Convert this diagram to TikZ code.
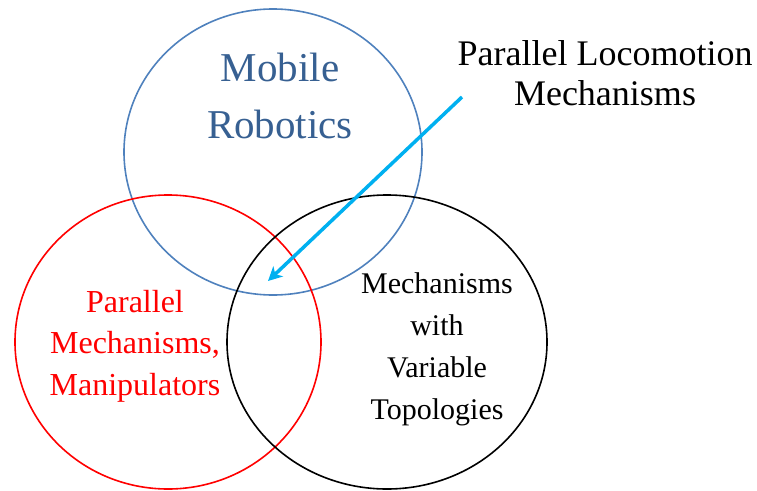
\documentclass[tikz,border=0pt]{standalone}
\usepackage{fontspec}
\setmainfont{Liberation Serif}
\usetikzlibrary{arrows.meta}
\definecolor{ringblue}{HTML}{4F81BD}
\definecolor{textblue}{HTML}{376092}
\definecolor{arrowcyan}{HTML}{00B0F0}
\definecolor{pred}{HTML}{FF0000}
\tikzset{
  ring/.style={line width=1.6pt},
  lbl/.style={align=center, inner sep=0pt, anchor=base},
  pointer/.style={arrowcyan, line width=3.5pt, -{Stealth[length=14pt,width=14pt,inset=4pt]}}
}
\begin{document}
\begin{tikzpicture}[x=1pt,y=-1pt]
\useasboundingbox (0,0) rectangle (757,490);
% circles
\draw[ring, ringblue] (273,152) ellipse [x radius=149, y radius=143];
\draw[ring, pred] (168,342) ellipse [x radius=153, y radius=147];
\draw[ring, black] (387,342) ellipse [x radius=160, y radius=147];
% labels (anchor base = baseline of the last line)
\node[lbl, textblue, font=\fontsize{41}{57}\selectfont] (mobile) at (280,138) {Mobile\\Robotics};
\node[lbl, pred, font=\fontsize{32}{41.5}\selectfont] (parallel) at (135,395) {Parallel\\Mechanisms,\\Manipulators};
\node[lbl, black, font=\fontsize{30}{42}\selectfont] (variable) at (437,419) {Mechanisms\\with\\Variable\\Topologies};
\node[lbl, black, font=\fontsize{36}{40}\selectfont] (locomotion) at (605,105) {Parallel Locomotion\\Mechanisms};
% arrow
\coordinate (astart) at (462,97);
\coordinate (aend) at (268,281);
\draw[pointer] (astart) -- (aend);
\end{tikzpicture}
\end{document}
